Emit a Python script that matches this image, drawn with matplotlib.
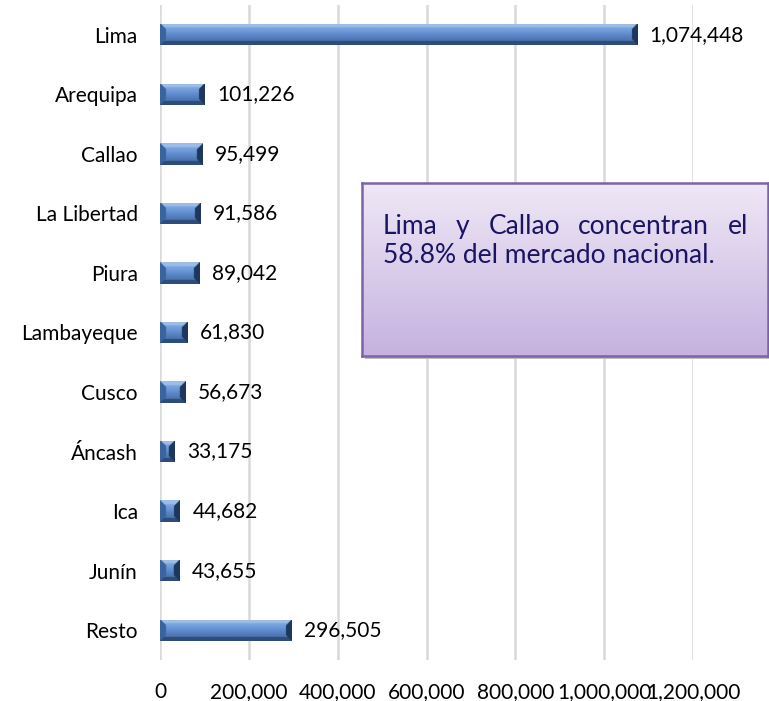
import numpy as np
import matplotlib
matplotlib.use("Agg")
import matplotlib.pyplot as plt
from matplotlib.colors import to_rgb
from matplotlib.ticker import FuncFormatter

# Data
regions = ["Lima", "Arequipa", "Callao", "La Libertad", "Piura", "Lambayeque",
           "Cusco", "Áncash", "Ica", "Junín", "Resto"]
values = [1074448, 101226, 95499, 91586, 89042, 61830, 56673, 33175, 44682, 43655, 296505]
x_ticks = [0, 200000, 400000, 600000, 800000, 1000000, 1200000]
note_line1 = ["Lima", "y", "Callao", "concentran", "el"]
note_line2 = "58.8% del mercado nacional."

plt.rcParams["font.family"] = ["Lato", "DejaVu Sans"]

W, H, DPI = 769, 701, 100
fig = plt.figure(figsize=(W / DPI, H / DPI), dpi=DPI)
fig.patch.set_facecolor("white")

ax_l, ax_r, ax_t, ax_b = 160, 693, 5, 660
ax = fig.add_axes([ax_l / W, 1 - ax_b / H, (ax_r - ax_l) / W, (ax_b - ax_t) / H])

n = len(regions)
ypos = np.arange(n)[::-1]
bar_h = 0.36
bars = ax.barh(ypos, values, height=bar_h, color="#4F81BD", zorder=2)

ax.set_xlim(0, 1200000)
ax.set_ylim(-0.5, n - 0.5)

# bevelled bar look
px_x = (ax_r - ax_l) / 1200000
px_y = (ax_b - ax_t) / n


def bevel_image(wpx, hpx, s=3):
    w = max(int(round(wpx * s)), 2)
    h = max(int(round(hpx * s)), 2)
    xs = (np.arange(w) + 0.5) / s
    ys = (np.arange(h) + 0.5) / s
    X, Y = np.meshgrid(xs, ys)
    dl, dr = X, wpx - X
    dt, db = Y, hpx - Y
    b = min(6.0, wpx / 2)
    bt = 4.0
    # face gradient (top -> bottom), light band near the top
    stops = [0.0, 0.25, 0.55, 1.0]
    cols = [to_rgb(c) for c in ["#8DB5EC", "#78A4E0", "#5A88C8", "#3D6299"]]
    t = (Y / hpx)
    img = np.zeros(t.shape + (3,))
    for k in range(3):
        img[..., k] = np.interp(t, stops, [c[k] for c in cols])
    top_b = (dt < bt) & (dt <= db) & (dt < dl) & (dt < dr)
    bot_b = (db < bt) & (db < dt) & (db < dl) & (db < dr)
    left_b = (dl < b) & (dl <= dt) & (dl <= db)
    right_b = (dr < b) & (dr <= dt) & (dr <= db)
    img[top_b] = to_rgb("#9DBDE6")
    img[bot_b] = to_rgb("#2F4C78")
    img[left_b] = to_rgb("#3A64A0")
    img[right_b] = to_rgb("#1D375D")
    return img


for rect, v in zip(bars, values):
    x0, y0 = rect.get_x(), rect.get_y()
    w, h = rect.get_width(), rect.get_height()
    img = bevel_image(w * px_x, h * px_y)
    im = ax.imshow(img, extent=(x0, x0 + w, y0, y0 + h), aspect="auto",
                   interpolation="bilinear", origin="upper", zorder=3)
    im.set_clip_path(rect)
    ax.annotate(f"{v:,}", xy=(x0 + w, y0 + h / 2), xytext=(9, 0),
                textcoords="offset points", ha="left", va="center",
                fontsize=15, color="black", zorder=4)

ax.set_xticks(x_ticks)
ax.xaxis.set_major_formatter(FuncFormatter(lambda x, p: f"{int(x):,}"))
ax.set_yticks(ypos)
ax.set_yticklabels(regions)
ax.tick_params(axis="both", length=0, labelsize=15, colors="black")
ax.tick_params(axis="y", pad=16)
ax.tick_params(axis="x", pad=16)
for s in ax.spines.values():
    s.set_visible(False)
ax.grid(axis="x", color="#D9D9D9", linewidth=1.8, zorder=0)
ax.set_axisbelow(True)

# note box
bx0, bx1, by0, by1 = 362, 768, 183, 356
shadow = fig.add_axes([(bx0 + 3) / W, 1 - (by1 + 3) / H, (bx1 - bx0) / W, (by1 - by0) / H])
shadow.set_facecolor("#BDBDBD")
shadow.set_xticks([]); shadow.set_yticks([])
for s in shadow.spines.values():
    s.set_visible(False)

box = fig.add_axes([bx0 / W, 1 - by1 / H, (bx1 - bx0) / W, (by1 - by0) / H])
c_top = np.array(to_rgb("#EFE8F6"))
c_bot = np.array(to_rgb("#C5B2DF"))
g = np.linspace(0, 1, 200)[:, None, None]
grad = c_top + (c_bot - c_top) * g
box.imshow(np.repeat(grad, 2, axis=1), extent=(0, 1, 0, 1), aspect="auto", origin="upper")
box.set_xlim(0, 1); box.set_ylim(0, 1)
box.set_xticks([]); box.set_yticks([])
for s in box.spines.values():
    s.set_color("#7E62A8")
    s.set_linewidth(1.8)

txt_color = "#1B1464"
pad_l, pad_r = 21, 20
line1_y = 1 - (234 - by0) / (by1 - by0)
line2_y = 1 - (263 - by0) / (by1 - by0)
box_w = bx1 - bx0

# justify first line
renderer = fig.canvas.get_renderer()
words = [box.text(0, line1_y, wd, fontsize=19, color=txt_color, va="baseline",
                  ha="left", transform=box.transAxes) for wd in note_line1]
widths = [t.get_window_extent(renderer).width for t in words]
gap = (box_w - pad_l - pad_r - sum(widths)) / (len(words) - 1)
xcur = pad_l
for t, wd in zip(words, widths):
    t.set_x(xcur / box_w)
    xcur += wd + gap
box.text(pad_l / box_w, line2_y, note_line2, fontsize=19, color=txt_color,
         va="baseline", ha="left", transform=box.transAxes)

fig.savefig("out.png", dpi=DPI)
